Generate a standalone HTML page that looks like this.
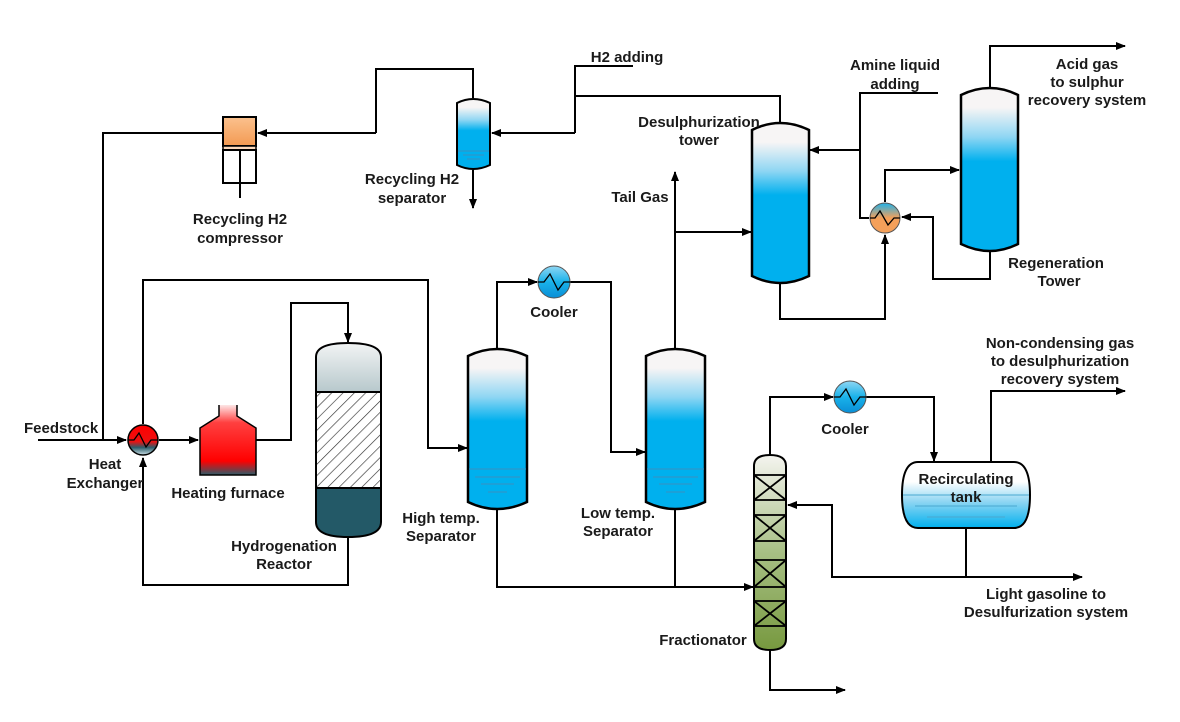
<!DOCTYPE html>
<html><head><meta charset="utf-8"><style>
body{margin:0;background:#fff}
text{font-family:"Liberation Sans",Arial,sans-serif;font-weight:bold;font-size:15px;fill:#1a1a1a}
</style></head><body>
<svg width="1180" height="717" viewBox="0 0 1180 717" xmlns="http://www.w3.org/2000/svg">
<defs>
<marker id="a" markerWidth="10" markerHeight="10" refX="9" refY="5" orient="auto" markerUnits="userSpaceOnUse"><path d="M0,1 L10,5 L0,9 z" fill="#000"/></marker>
<linearGradient id="blue" x1="0" y1="0" x2="0" y2="1"><stop offset="0" stop-color="#f7f5f5"/><stop offset="0.12" stop-color="#f7f5f5"/><stop offset="0.3" stop-color="#8fd6f3"/><stop offset="0.45" stop-color="#00b0ee"/><stop offset="1" stop-color="#00b0ee"/></linearGradient>
<linearGradient id="tank" x1="0" y1="0" x2="0" y2="1"><stop offset="0" stop-color="#fff"/><stop offset="0.3" stop-color="#fff"/><stop offset="0.6" stop-color="#8fd6f3"/><stop offset="1" stop-color="#00b0ee"/></linearGradient>
<linearGradient id="cool" x1="0" y1="0" x2="0" y2="1"><stop offset="0" stop-color="#8fd6f3"/><stop offset="0.5" stop-color="#19b2ea"/><stop offset="1" stop-color="#0a8ed6"/></linearGradient>
<linearGradient id="hx1" x1="0" y1="0" x2="0" y2="1"><stop offset="0" stop-color="#ff0000"/><stop offset="0.55" stop-color="#ee1010"/><stop offset="0.75" stop-color="#2b5c6a"/><stop offset="1" stop-color="#c9dde3"/></linearGradient>
<linearGradient id="hx2" x1="0" y1="0" x2="0" y2="1"><stop offset="0" stop-color="#1fb2ea"/><stop offset="0.5" stop-color="#f4a05a"/><stop offset="1" stop-color="#f4a05a"/></linearGradient>
<linearGradient id="furn" x1="0" y1="0" x2="0" y2="1"><stop offset="0" stop-color="#fde6e6"/><stop offset="0.25" stop-color="#ff4040"/><stop offset="0.8" stop-color="#ff0000"/><stop offset="1" stop-color="#2b5c6a"/></linearGradient>
<linearGradient id="gray" x1="0" y1="0" x2="0" y2="1"><stop offset="0" stop-color="#f2f4f4"/><stop offset="1" stop-color="#b7c8cc"/></linearGradient>
<linearGradient id="green" x1="0" y1="0" x2="0" y2="1"><stop offset="0" stop-color="#f4f4ef"/><stop offset="0.5" stop-color="#a7bf84"/><stop offset="1" stop-color="#77993f"/></linearGradient>
<linearGradient id="orange" x1="0" y1="0" x2="0" y2="1"><stop offset="0" stop-color="#fbc18e"/><stop offset="1" stop-color="#f39a52"/></linearGradient>
<pattern id="hatch" width="8" height="8" patternUnits="userSpaceOnUse" patternTransform="rotate(45)"><rect width="8" height="8" fill="#fff"/><line x1="0" y1="0" x2="0" y2="8" stroke="#333" stroke-width="1.3"/></pattern>
</defs>
<g fill="none" stroke="#000" stroke-width="2">
<polyline points="103,440 103,133 222,133"/>
<polyline points="376,133 258,133" marker-end="url(#a)"/>
<polyline points="376,133 376,69 473,69 473,98"/>
<polyline points="473,170 473,208" marker-end="url(#a)"/>
<polyline points="575,133 492,133" marker-end="url(#a)"/>
<polyline points="633,66 575,66 575,133"/>
<polyline points="575,96 780,96 780,123"/>
<polyline points="38,440 126,440" marker-end="url(#a)"/>
<polyline points="159,440 198,440" marker-end="url(#a)"/>
<polyline points="143,424 143,280 428,280 428,448 467,448" marker-end="url(#a)"/>
<polyline points="256,440 291,440 291,303 348,303 348,342" marker-end="url(#a)"/>
<polyline points="348,537 348,585 143,585 143,458" marker-end="url(#a)"/>
<polyline points="497,348 497,282 537,282" marker-end="url(#a)"/>
<polyline points="570,282 611,282 611,452 645,452" marker-end="url(#a)"/>
<polyline points="675,348 675,172" marker-end="url(#a)"/>
<polyline points="675,232 751,232" marker-end="url(#a)"/>
<polyline points="497,510 497,587 753,587" marker-end="url(#a)"/>
<line x1="675" y1="510" x2="675" y2="587"/>
<polyline points="938,93 860,93 860,218 869,218"/>
<polyline points="860,150 810,150" marker-end="url(#a)"/>
<polyline points="885,202 885,170 959,170" marker-end="url(#a)"/>
<polyline points="990,251 990,279 933,279 933,217 902,217" marker-end="url(#a)"/>
<polyline points="780,283 780,319 885,319 885,235" marker-end="url(#a)"/>
<polyline points="990,88 990,46 1125,46" marker-end="url(#a)"/>
<polyline points="770,455 770,397 833,397" marker-end="url(#a)"/>
<polyline points="866,397 934,397 934,461" marker-end="url(#a)"/>
<polyline points="991,462 991,391 1125,391" marker-end="url(#a)"/>
<polyline points="966,528 966,577"/>
<polyline points="1082,577 832,577 832,505 788,505" marker-end="url(#a)"/>
<line x1="1060" y1="577" x2="1082" y2="577" marker-end="url(#a)"/>
<polyline points="770,650 770,690 845,690" marker-end="url(#a)"/>
</g>
<rect x="223" y="117" width="33" height="29" fill="url(#orange)" stroke="#000" stroke-width="2"/>
<rect x="223" y="146" width="33" height="4" fill="#fbd9bd" stroke="#000" stroke-width="1.5"/>
<rect x="223" y="150" width="33" height="33" fill="#fff" stroke="#000" stroke-width="2"/>
<line x1="240" y1="150" x2="240" y2="198" stroke="#000" stroke-width="2"/>
<path d="M457,103 Q473,95 490,103 L490,165 Q473,173 457,165 Z" fill="url(#blue)" stroke="#000" stroke-width="2"/>
<g stroke="#3a8fc0" stroke-width="1"><line x1="458" y1="151" x2="489" y2="151"/><line x1="463" y1="155" x2="484" y2="155"/><line x1="467" y1="159" x2="480" y2="159"/></g>
<circle cx="143" cy="440" r="15" fill="url(#hx1)" stroke="#000" stroke-width="1.5"/>
<polyline points="128,440 134,440 139,433 146,447 151,440 158,440" fill="none" stroke="#000" stroke-width="1.3"/>
<path d="M219,405 L219,416 L200,428 L200,475 L256,475 L256,428 L237,416 L237,405" fill="url(#furn)" stroke="#000" stroke-width="1.5"/>
<path d="M316,357 Q316,343 348,343 Q381,343 381,357 L381,392 L316,392 Z" fill="url(#gray)" stroke="#000" stroke-width="2"/>
<rect x="316" y="392" width="65" height="96" fill="url(#hatch)" stroke="#000" stroke-width="2"/>
<path d="M316,488 L381,488 L381,522 Q381,537 348,537 Q316,537 316,522 Z" fill="#235967" stroke="#000" stroke-width="2"/>
<path d="M468,356 Q497,342 527,356 L527,502 Q497,516 468,502 Z" fill="url(#blue)" stroke="#000" stroke-width="2.5"/>
<g stroke="#3a8fc0" stroke-width="1"><line x1="469" y1="469" x2="526" y2="469"/><line x1="475" y1="477" x2="520" y2="477"/><line x1="481" y1="484" x2="514" y2="484"/><line x1="488" y1="492" x2="507" y2="492"/></g>
<path d="M646,356 Q675,342 705,356 L705,502 Q675,516 646,502 Z" fill="url(#blue)" stroke="#000" stroke-width="2.5"/>
<g stroke="#3a8fc0" stroke-width="1"><line x1="647" y1="469" x2="704" y2="469"/><line x1="653" y1="477" x2="698" y2="477"/><line x1="659" y1="484" x2="692" y2="484"/><line x1="666" y1="492" x2="685" y2="492"/></g>
<circle cx="554" cy="282" r="16" fill="url(#cool)" stroke="#555" stroke-width="1"/>
<polyline points="538,282 544,282 550,274 558,290 564,282 570,282" fill="none" stroke="#000" stroke-width="1.3"/>
<circle cx="850" cy="397" r="16" fill="url(#cool)" stroke="#555" stroke-width="1"/>
<polyline points="834,397 840,397 846,389 854,405 860,397 866,397" fill="none" stroke="#000" stroke-width="1.3"/>
<path d="M752,130 Q780,116 809,130 L809,276 Q780,290 752,276 Z" fill="url(#blue)" stroke="#000" stroke-width="2.5"/>
<path d="M961,95 Q990,81 1018,95 L1018,244 Q990,258 961,244 Z" fill="url(#blue)" stroke="#000" stroke-width="2.5"/>
<circle cx="885" cy="218" r="15" fill="url(#hx2)" stroke="#555" stroke-width="1"/>
<polyline points="870,218 875,218 880,211 888,225 894,218 900,218" fill="none" stroke="#000" stroke-width="1.3"/>
<path d="M754,466 Q754,455 770,455 Q786,455 786,466 L786,639 Q786,650 770,650 Q754,650 754,639 Z" fill="url(#green)" stroke="#000" stroke-width="2"/>
<g stroke="#000" stroke-width="1.8" fill="none">
<rect x="754" y="475" width="32" height="25"/><path d="M754,475 L786,500 M786,475 L754,500"/>
<rect x="754" y="515" width="32" height="26"/><path d="M754,515 L786,541 M786,515 L754,541"/>
<rect x="754" y="560" width="32" height="27"/><path d="M754,560 L786,587 M786,560 L754,587"/>
<rect x="754" y="601" width="32" height="25"/><path d="M754,601 L786,626 M786,601 L754,626"/>
</g>
<path d="M918,462 L1014,462 Q1030,462 1030,495 Q1030,528 1014,528 L918,528 Q902,528 902,495 Q902,462 918,462 Z" fill="url(#tank)" stroke="#000" stroke-width="2"/>
<g stroke="#4aa8d0" stroke-width="1"><line x1="903" y1="495" x2="1029" y2="495"/><line x1="915" y1="506" x2="1017" y2="506"/><line x1="927" y1="517" x2="1005" y2="517"/></g>
<text x="24" y="433">Feedstock</text>
<text x="105" y="469" text-anchor="middle">Heat</text>
<text x="105" y="488" text-anchor="middle">Exchanger</text>
<text x="228" y="498" text-anchor="middle">Heating furnace</text>
<text x="284" y="551" text-anchor="middle">Hydrogenation</text>
<text x="284" y="569" text-anchor="middle">Reactor</text>
<text x="441" y="523" text-anchor="middle">High temp.</text>
<text x="441" y="541" text-anchor="middle">Separator</text>
<text x="618" y="518" text-anchor="middle">Low temp.</text>
<text x="618" y="536" text-anchor="middle">Separator</text>
<text x="554" y="317" text-anchor="middle">Cooler</text>
<text x="845" y="434" text-anchor="middle">Cooler</text>
<text x="240" y="224" text-anchor="middle">Recycling H2</text>
<text x="240" y="243" text-anchor="middle">compressor</text>
<text x="412" y="184" text-anchor="middle">Recycling H2</text>
<text x="412" y="203" text-anchor="middle">separator</text>
<text x="627" y="62" text-anchor="middle">H2 adding</text>
<text x="699" y="127" text-anchor="middle">Desulphurization</text>
<text x="699" y="145" text-anchor="middle">tower</text>
<text x="640" y="202" text-anchor="middle">Tail Gas</text>
<text x="895" y="70" text-anchor="middle">Amine liquid</text>
<text x="895" y="89" text-anchor="middle">adding</text>
<text x="1087" y="69" text-anchor="middle">Acid gas</text>
<text x="1087" y="87" text-anchor="middle">to sulphur</text>
<text x="1087" y="105" text-anchor="middle">recovery system</text>
<text x="1056" y="268" text-anchor="middle">Regeneration</text>
<text x="1059" y="286" text-anchor="middle">Tower</text>
<text x="1060" y="348" text-anchor="middle">Non-condensing gas</text>
<text x="1060" y="366" text-anchor="middle">to desulphurization</text>
<text x="1060" y="384" text-anchor="middle">recovery system</text>
<text x="966" y="484" text-anchor="middle">Recirculating</text>
<text x="966" y="502" text-anchor="middle">tank</text>
<text x="1046" y="599" text-anchor="middle">Light gasoline to</text>
<text x="1046" y="617" text-anchor="middle">Desulfurization system</text>
<text x="703" y="645" text-anchor="middle">Fractionator</text>
</svg>
</body></html>
